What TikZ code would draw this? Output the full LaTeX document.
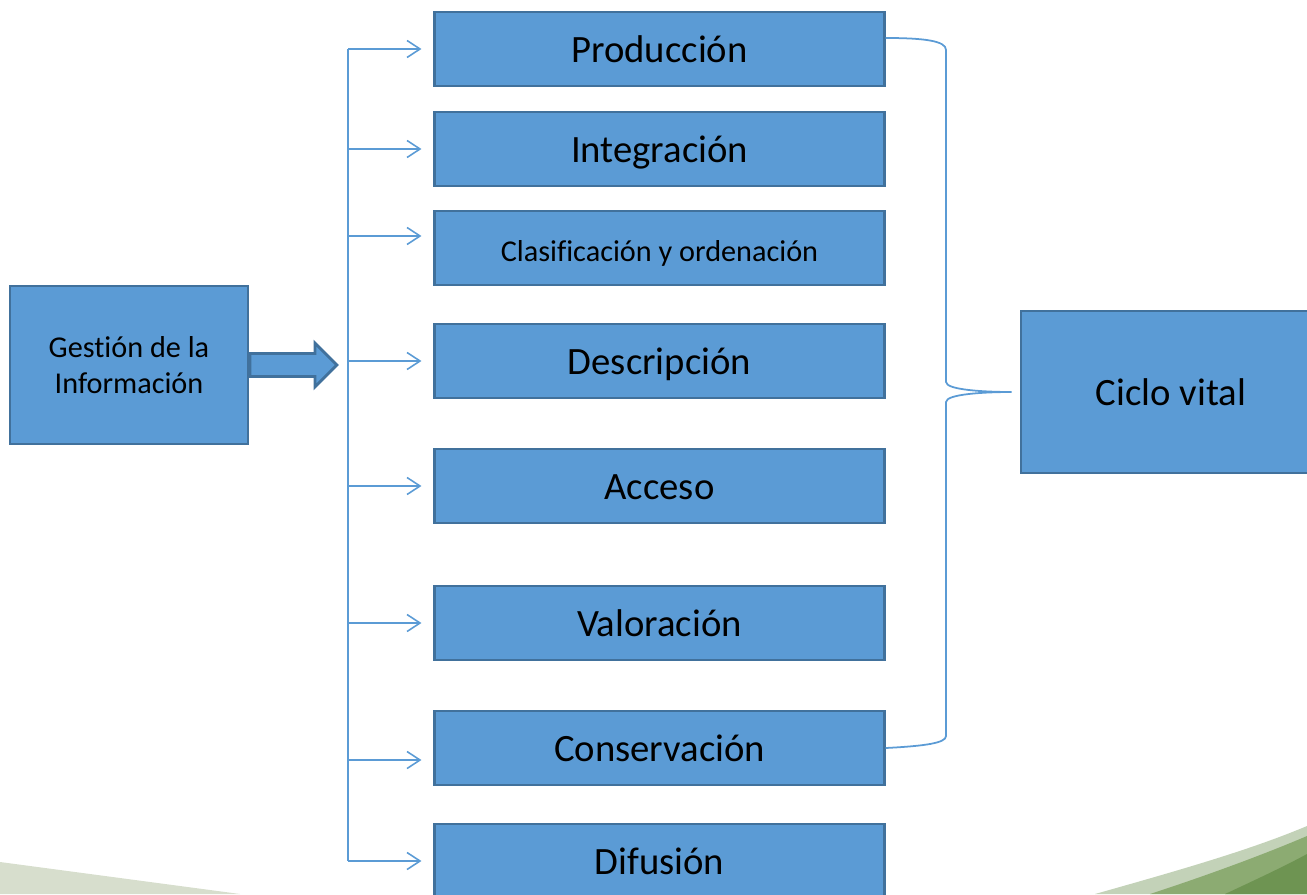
\documentclass[tikz,border=0pt]{standalone}
\usepackage{fontspec}
\setmainfont{Carlito}[Ligatures=NoCommon]
\usetikzlibrary{shapes}
\usetikzlibrary{shapes.arrows}
\usetikzlibrary{arrows.meta}
\usetikzlibrary{calc}
\definecolor{boxblue}{HTML}{5B9BD5}
\definecolor{boxedge}{HTML}{41719C}
\definecolor{paleleaf}{HTML}{D7DECD}
\definecolor{lightleaf}{HTML}{C3D2B8}
\definecolor{midleaf}{HTML}{8CAB72}
\definecolor{darkleaf}{HTML}{6E9452}
\tikzset{stage/.style={rectangle, draw=boxedge, fill=boxblue, line width=0.8pt, minimum width=4.49cm, minimum height=0.74cm, inner sep=0pt, text height=1.85ex, text depth=0.2ex, font=\fontsize{11}{13}\selectfont}}
\tikzset{bigbox/.style={rectangle, draw=boxedge, fill=boxblue, line width=0.8pt, inner sep=0pt, align=center}}
\tikzset{branch/.style={draw=boxblue, line width=0.45pt, -{Straight Barb[length=1.3mm, width=1.7mm, line width=0.45pt]}}}
\tikzset{bracket/.style={draw=boxblue, line width=0.5pt}}

\begin{document}
\begin{tikzpicture}[x=0.01cm,y=-0.01cm]
  \useasboundingbox (0,0) rectangle (1307,894);
  % backdrop
  \fill[paleleaf] (0,862) -- (240,894) -- (0,894) -- cycle;
  \fill[lightleaf] (1095,894) .. controls (1180,870) and (1250,850) .. (1307,826) -- (1307,894) -- cycle;
  \fill[midleaf] (1150,894) .. controls (1205,876) and (1260,856) .. (1307,836) -- (1307,894) -- cycle;
  \fill[darkleaf] (1225,894) .. controls (1255,880) and (1285,866) .. (1307,854) -- (1307,894) -- cycle;
  \begin{scope}
    \clip (0,0) rectangle (1307,894);
    \foreach \y/\lab/\txt in {
      49/prod/Producción,
      149/integ/Integración,
      248/clas/{\fontsize{8.6}{10}\selectfont Clasificación y ordenación},
      361/desc/Descripción,
      486/acc/Acceso,
      623/val/Valoración,
      748/cons/Conservación,
      861/dif/Difusión%
    } {
      \node[stage] (\lab) at (659.5, \y) {\txt};
    }
    \node[bigbox, minimum width=2.38cm, minimum height=1.58cm, font=\fontsize{8.6}{10.2}\selectfont] (gest) at (129, 365) {Gestión de la\\Información};
    \node[bigbox, minimum width=3.0cm, minimum height=1.62cm, font=\fontsize{11}{13}\selectfont] (ciclo) at (1171, 392) {Ciclo vital};
  \end{scope}
  \node[single arrow, draw=boxedge, fill=boxblue, line width=0.8pt, inner sep=0.1cm, minimum height=0.87cm, minimum width=0.41cm, single arrow head extend=0.105cm, anchor=tail] (push) at ([xshift=-0.01cm]gest.east) {};
  % trunk and branches
  \coordinate (trunk) at (348, 49);
  \draw[draw=boxblue, line width=0.5pt] (trunk) -- (trunk |- dif.west);
  \foreach \lab/\dy in {prod/0, integ/0, clas/0.12, desc/0, acc/0, val/0, cons/-0.12, dif/0}{
    \coordinate (in-\lab) at ([xshift=-0.12cm, yshift=\dy cm]\lab.west);
    \draw[branch] (trunk |- in-\lab) -- (in-\lab);
  }
  % brace towards the cycle box
  \coordinate (tip) at ([xshift=-0.08cm]ciclo.west);
  \draw[bracket] ([yshift=0.11cm]prod.east) .. controls (925,38) and (946,41) .. (946,50)
    -- (946,382) .. controls (946,390) and (985,392) .. (tip)
    .. controls (985,392) and (946,394) .. (946,402)
    -- (946,736) .. controls (946,743) and (925,746) .. (cons.east);
\end{tikzpicture}
\end{document}
